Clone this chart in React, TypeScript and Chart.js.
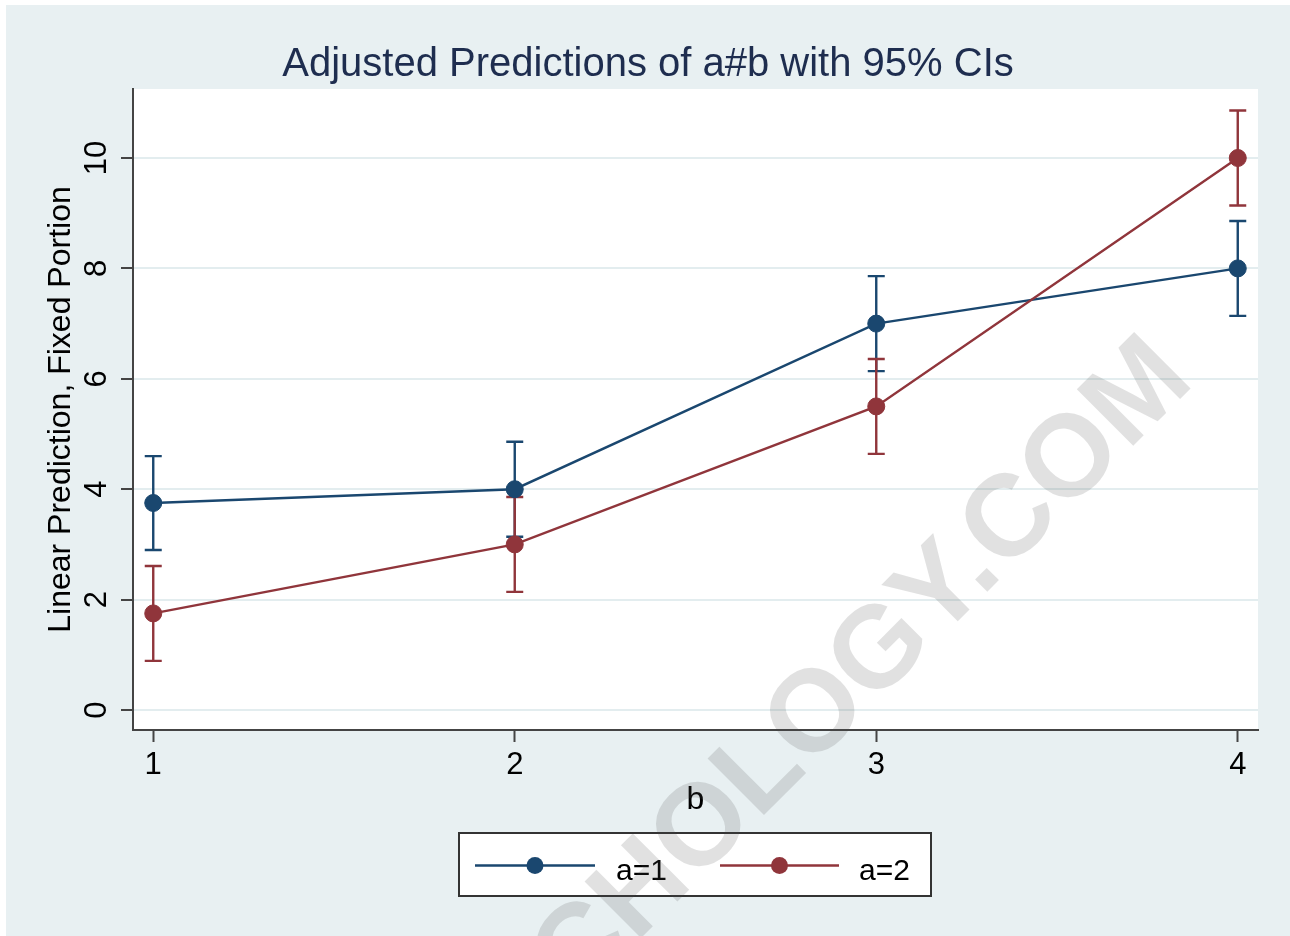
import React, { useEffect, useRef } from 'react';
import { Chart, registerables } from 'chart.js';

Chart.register(...registerables);

const FONT = '"Liberation Sans", Arial, Helvetica, sans-serif';

const TITLE = 'Adjusted Predictions of a#b with 95% CIs';
const X_TITLE = 'b';
const Y_TITLE = 'Linear Prediction, Fixed Portion';

const B_LEVELS = [1, 2, 3, 4];
const Y_TICKS = [0, 2, 4, 6, 8, 10];

const SERIES_LABELS = ['a=1', 'a=2'];
const SERIES_COLORS = ['#1a476f', '#90353b'];

const A1_MEAN = [3.75, 4.0, 7.0, 8.0];
const A1_LOW = [2.9, 3.14, 6.14, 7.14];
const A1_HIGH = [4.6, 4.86, 7.86, 8.86];

const A2_MEAN = [1.75, 3.0, 5.5, 10.0];
const A2_LOW = [0.89, 2.14, 4.64, 9.14];
const A2_HIGH = [2.61, 3.86, 6.36, 10.86];

const WATERMARK = 'CHOLOGY.COM';

const backgroundPlugin = {
  id: 'stataBackground',
  beforeDraw(chart: any) {
    const { ctx, width, height, chartArea } = chart;
    ctx.save();
    ctx.fillStyle = '#ffffff';
    ctx.fillRect(0, 0, width, height);
    ctx.fillStyle = '#e8f0f2';
    ctx.fillRect(6, 5, width - 6, height - 5);
    ctx.fillStyle = '#ffffff';
    ctx.fillRect(chartArea.left, chartArea.top, chartArea.right - chartArea.left, chartArea.bottom - chartArea.top);
    ctx.restore();
  },
};

const errorBarPlugin = {
  id: 'errorBars',
  beforeDatasetsDraw(chart: any) {
    const { ctx } = chart;
    const xs = chart.scales.x;
    const ys = chart.scales.y;
    ctx.save();
    chart.data.datasets.forEach((ds: any) => {
      ctx.strokeStyle = ds.borderColor;
      ctx.lineWidth = 2.4;
      ds.data.forEach((pt: any, j: number) => {
        const x = xs.getPixelForValue(pt.x);
        const yl = ys.getPixelForValue(ds.errLow[j]);
        const yh = ys.getPixelForValue(ds.errHigh[j]);
        const cap = 8.5;
        ctx.beginPath();
        ctx.moveTo(x, yl);
        ctx.lineTo(x, yh);
        ctx.moveTo(x - cap, yl);
        ctx.lineTo(x + cap, yl);
        ctx.moveTo(x - cap, yh);
        ctx.lineTo(x + cap, yh);
        ctx.stroke();
      });
    });
    ctx.restore();
  },
};

const legendAndWatermarkPlugin = {
  id: 'stataLegend',
  afterDraw(chart: any) {
    const { ctx } = chart;
    ctx.save();
    // legend box
    ctx.fillStyle = '#ffffff';
    ctx.fillRect(459, 833, 472, 63);
    ctx.strokeStyle = '#333333';
    ctx.lineWidth = 2;
    ctx.strokeRect(459, 833, 472, 63);
    const items = [
      { x0: 475, x1: 595, tx: 616 },
      { x0: 720, x1: 839, tx: 859 },
    ];
    chart.data.datasets.forEach((ds: any, i: number) => {
      const it = items[i];
      const ly = 865.5;
      ctx.strokeStyle = ds.borderColor;
      ctx.lineWidth = 2.4;
      ctx.beginPath();
      ctx.moveTo(it.x0, ly);
      ctx.lineTo(it.x1, ly);
      ctx.stroke();
      ctx.fillStyle = ds.backgroundColor;
      ctx.beginPath();
      ctx.arc((it.x0 + it.x1) / 2, ly, 8.5, 0, Math.PI * 2);
      ctx.fill();
      ctx.fillStyle = '#000000';
      ctx.font = `30px ${FONT}`;
      ctx.textAlign = 'left';
      ctx.textBaseline = 'alphabetic';
      ctx.fillText(ds.label, it.tx, 880);
    });
    // watermark
    ctx.translate(1196, 383);
    ctx.rotate(-Math.PI / 4);
    ctx.font = `bold 116px ${FONT}`;
    ctx.fillStyle = 'rgba(80,80,80,0.17)';
    ctx.textAlign = 'right';
    ctx.textBaseline = 'alphabetic';
    ctx.fillText(WATERMARK, 0, 0);
    ctx.restore();
  },
};

export default function App() {
  const canvasRef = useRef<HTMLCanvasElement | null>(null);

  useEffect(() => {
    document.body.style.margin = '0';
    const canvas = canvasRef.current;
    if (!canvas) return;

    const series = [
      { mean: A1_MEAN, low: A1_LOW, high: A1_HIGH },
      { mean: A2_MEAN, low: A2_LOW, high: A2_HIGH },
    ];

    const datasets = series.map((s, i) => ({
      label: SERIES_LABELS[i],
      data: B_LEVELS.map((b, j) => ({ x: b, y: s.mean[j] })),
      errLow: s.low,
      errHigh: s.high,
      borderColor: SERIES_COLORS[i],
      backgroundColor: SERIES_COLORS[i],
      borderWidth: 2.4,
      pointRadius: 8.5,
      pointHoverRadius: 8.5,
      pointBorderWidth: 1,
      pointBackgroundColor: SERIES_COLORS[i],
      pointBorderColor: SERIES_COLORS[i],
      tension: 0,
      order: 1 - i,
    }));

    const chart = new Chart(canvas, {
      type: 'line',
      data: { datasets } as any,
      plugins: [backgroundPlugin, errorBarPlugin, legendAndWatermarkPlugin],
      options: {
        responsive: false,
        animation: false,
        events: [],
        layout: { padding: { left: 6, top: 0, right: 0, bottom: 0 } },
        plugins: {
          legend: { display: false },
          tooltip: { enabled: false },
          title: {
            display: true,
            text: TITLE,
            color: '#1e2d4f',
            font: { family: FONT, size: 40, weight: 'normal' },
            padding: { top: 41, bottom: 0 },
          },
        },
        scales: {
          x: {
            type: 'linear',
            position: 'bottom',
            min: 0.944,
            max: 4.056,
            afterBuildTicks: (s: any) => {
              s.ticks = B_LEVELS.map((v) => ({ value: v }));
            },
            afterFit: (s: any) => {
              s.height = 206;
            },
            ticks: {
              color: '#000000',
              font: { family: FONT, size: 31 },
              padding: 5,
              minRotation: 0,
              maxRotation: 0,
            },
            grid: {
              drawOnChartArea: false,
              drawTicks: true,
              tickLength: 12,
              tickColor: '#444444',
              tickWidth: 2,
            },
            border: { color: '#444444', width: 2 },
            title: {
              display: true,
              text: X_TITLE,
              color: '#000000',
              font: { family: FONT, size: 32 },
              padding: { top: 0, bottom: 116.5 },
            },
          },
          y: {
            type: 'linear',
            position: 'left',
            min: -0.362,
            max: 11.25,
            afterBuildTicks: (s: any) => {
              s.ticks = Y_TICKS.map((v) => ({ value: v }));
            },
            afterFit: (s: any) => {
              s.width = 127;
            },
            ticks: {
              color: '#000000',
              font: { family: FONT, size: 31 },
              padding: 6.25,
              minRotation: 90,
              maxRotation: 90,
              crossAlign: 'center',
            },
            grid: {
              color: '#e3edef',
              lineWidth: 2,
              drawTicks: true,
              tickLength: 12,
              tickColor: '#444444',
              tickWidth: 2,
            },
            border: { color: '#444444', width: 2 },
            title: {
              display: true,
              text: Y_TITLE,
              color: '#000000',
              font: { family: FONT, size: 32 },
              padding: { top: 36.3, bottom: 0 },
            },
          },
          yR: {
            type: 'linear',
            position: 'right',
            display: true,
            ticks: { display: false },
            grid: { display: false, drawTicks: false },
            border: { display: false },
            afterFit: (s: any) => {
              s.width = 32;
            },
          },
        },
      } as any,
    });

    return () => {
      chart.destroy();
    };
  }, []);

  return (
    <canvas
      ref={canvasRef}
      width={1290}
      height={936}
      style={{ display: 'block', width: '1290px', height: '936px' }}
    />
  );
}
